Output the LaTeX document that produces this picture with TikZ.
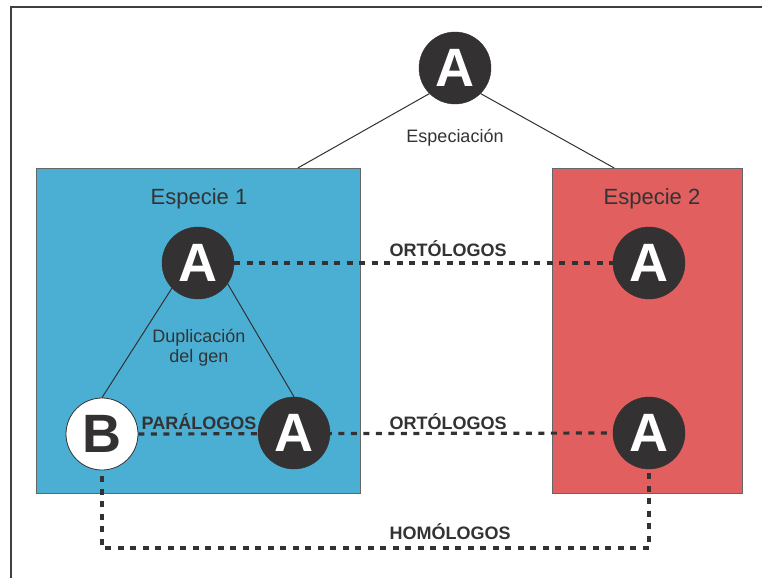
\documentclass[tikz,border=0pt]{standalone}
\usepackage{fontspec}
\setmainfont{Liberation Sans}
\usetikzlibrary{calc}
\definecolor{dark}{RGB}{51,49,50}
\definecolor{bluebox}{RGB}{75,175,212}
\definecolor{redbox}{RGB}{225,95,95}
\definecolor{txt}{RGB}{51,51,51}
\pgfdeclarelayer{bg}
\pgfdeclarelayer{links}
\pgfsetlayers{bg,links,main}
\begin{document}
\begin{tikzpicture}[x=1pt,y=-1pt,
 gene/.style={circle, minimum size=72pt, inner sep=0pt, fill=dark, draw=dark, text=white, font=\fontsize{54}{54}\selectfont\bfseries},
 geneB/.style={gene, fill=white, draw=dark, line width=0.8pt, text=dark},
 speciesbox/.style={draw=black!60, line width=0.8pt, inner sep=0pt, anchor=north west, minimum height=325pt},
 title/.style={font=\fontsize{22}{26}\selectfont, text=txt, anchor=base, inner sep=0pt},
 event/.style={font=\fontsize{18}{20}\selectfont, text=txt, anchor=base, inner sep=0pt},
 relation/.style={font=\fontsize{18}{20}\selectfont\bfseries, text=txt, anchor=base, inner sep=0pt},
 tree/.style={draw=dark, line width=1pt},
 relline/.style={draw=dark, line width=3.2pt, dash pattern=on 6pt off 6.5pt}]

\useasboundingbox (0,0) rectangle (762,578);
\begin{pgfonlayer}{bg}
\fill[white] (0,0) rectangle (762,578);
\draw[black!75, line width=1.2pt] (11,578) -- (11,7) -- (762,7);
\node[speciesbox, fill=bluebox, minimum width=324pt] (sp1) at (36,168) {};
\node[speciesbox, fill=redbox, minimum width=190pt] (sp2) at (552,168) {};
\end{pgfonlayer}

\node[gene] (top) at (455,68) {A};
\node[gene] (a1) at (198,263) {A};
\node[gene] (a2) at (649,263) {A};
\node[geneB] (b) at (102,434) {B};
\node[gene] (a3) at (294,433) {A};
\node[gene] (a4) at (649,433) {A};

\node[event] (spec) at (455,142) {Especiación};
\node[title] (t1) at (199,204) {Especie 1};
\node[title] (t2) at (652,204) {Especie 2};
\node[event] (dup1) at (199,342) {Duplicación};
\node[event] (dup2) at (199,362) {del gen};
\node[relation] (ort1) at (448,256) {ORTÓLOGOS};
\node[relation] (par) at (199,429) {PARÁLOGOS};
\node[relation] (ort2) at (448,429) {ORTÓLOGOS};
\node[relation] (hom) at (450,539) {HOMÓLOGOS};

\begin{pgfonlayer}{links}
\draw[tree] (top.-135) -- ($(sp1.north west)!0.806!(sp1.north east)$);
\draw[tree] (top.-45) -- ($(sp2.north west)!0.326!(sp2.north east)$);
\draw[tree] (a1.-136) -- (b.north);
\draw[tree] (a1.-35) -- (a3.north);
\draw[relline] (a1.east) -- (a2.west);
\draw[relline] (b.east) -- (a4.west);
\coordinate (hy) at (0,548);
\draw[relline, dash phase=6.5pt] (b.south) -- (b.south |- hy) -| (a4.south);
\end{pgfonlayer}
\end{tikzpicture}
\end{document}
